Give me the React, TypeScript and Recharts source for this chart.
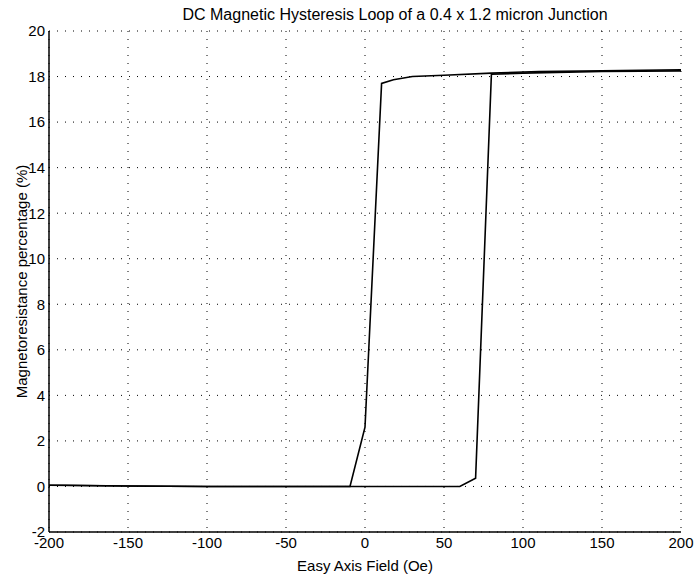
import React from "react";
import {
  LineChart,
  Line,
  XAxis,
  YAxis,
  CartesianGrid,
} from "recharts";

// Hysteresis loop
// ascending branch: field swept from -200 up to +200
const ascField = [-200, -150, -100, -50, 0, 60, 70, 80, 100, 150, 200];
const ascMR = [0.05, 0.02, 0, 0, 0, 0, 0.36, 18.1, 18.15, 18.22, 18.25];

// descending branch: field swept from +200 back to -200
const descField = [200, 150, 110, 80, 50, 30, 18, 10.5, 0, -9.5, -100, -150, -190, -200];
const descMR = [18.3, 18.25, 18.22, 18.15, 18.06, 18.0, 17.86, 17.7, 2.6, 0, 0, 0.02, 0.05, 0.05];

const xTicks = [-200, -150, -100, -50, 0, 50, 100, 150, 200];
const yTicks = [-2, 0, 2, 4, 6, 8, 10, 12, 14, 16, 18, 20];

const ascData = ascField.map((x, i) => ({ x, y: ascMR[i] }));
const descData = descField.map((x, i) => ({ x, y: descMR[i] }));

const FONT = "'Liberation Sans', Arial, sans-serif";
const tickStyle = { fill: "#000", fontSize: 15, fontFamily: FONT };

export default function App() {
  return (
    <div style={{ position: "absolute", left: 0, top: 0, width: 697, height: 574, background: "#fff" }}>
      <LineChart
        width={697}
        height={574}
        margin={{ top: 31, right: 16, left: 0, bottom: 0 }}
      >
        <CartesianGrid
          xAxisId="b"
          yAxisId="l"
          stroke="#000"
          strokeDasharray="1 7"
          horizontalValues={yTicks}
          verticalValues={xTicks}
        />
        <XAxis
          xAxisId="b"
          type="number"
          dataKey="x"
          domain={[-200, 200]}
          ticks={xTicks}
          allowDataOverflow
          height={42}
          tickSize={0}
          tickMargin={5}
          tick={tickStyle}
          axisLine={{ stroke: "#000", strokeWidth: 1.5 }}
          label={{ value: "Easy Axis Field (Oe)", position: "insideBottom", offset: 3, fill: "#000", fontSize: 15, fontFamily: FONT }}
        />
        <XAxis
          xAxisId="t"
          orientation="top"
          type="number"
          dataKey="x"
          domain={[-200, 200]}
          height={0}
          tick={false}
          axisLine={{ stroke: "#000", strokeWidth: 1.5 }}
        />
        <YAxis
          yAxisId="l"
          type="number"
          domain={[-2, 20]}
          ticks={yTicks}
          width={49}
          tickSize={0}
          tickMargin={4}
          tick={tickStyle}
          axisLine={{ stroke: "#000", strokeWidth: 1.5 }}
          label={{ value: "Magnetoresistance percentage (%)", angle: -90, position: "center", dx: -3, fill: "#000", fontSize: 15, fontFamily: FONT }}
        />
        <YAxis
          yAxisId="r"
          orientation="right"
          type="number"
          domain={[-2, 20]}
          width={0}
          tick={false}
          axisLine={{ stroke: "#000", strokeWidth: 1.5 }}
        />
        <Line
          xAxisId="b"
          yAxisId="l"
          data={ascData}
          dataKey="y"
          type="linear"
          stroke="#000"
          strokeWidth={1.6}
          dot={false}
          isAnimationActive={false}
        />
        <Line
          xAxisId="b"
          yAxisId="l"
          data={descData}
          dataKey="y"
          type="linear"
          stroke="#000"
          strokeWidth={1.6}
          dot={false}
          isAnimationActive={false}
        />
        <text x={395} y={20} textAnchor="middle" fontSize={16} fontFamily={FONT} fill="#000">
          DC Magnetic Hysteresis Loop of a 0.4 x 1.2 micron Junction
        </text>
      </LineChart>
    </div>
  );
}
